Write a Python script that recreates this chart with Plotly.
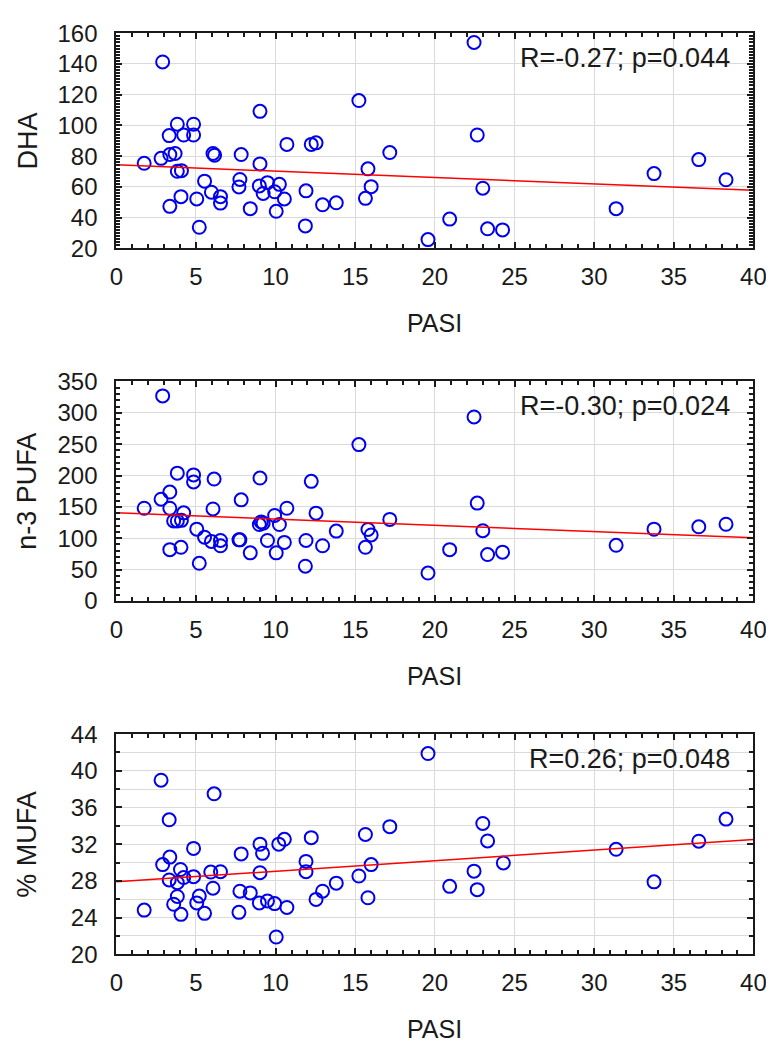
import plotly.graph_objects as go
from plotly.subplots import make_subplots

# PASI vs DHA
pasi_dha = [2.91, 1.75, 2.81, 3.36, 3.69, 3.32, 3.83, 4.23, 4.85, 4.85, 3.83, 4.09, 3.36, 4.06,
            5.05, 5.21, 5.54, 5.97, 6.07, 6.17, 6.54, 6.54, 7.70, 7.76, 7.84, 8.41, 9.02, 9.02,
            8.98, 9.22, 9.49, 9.94, 10.04, 10.24, 10.55, 10.71, 11.91, 11.87, 12.24, 12.54,
            12.95, 13.81, 15.23, 15.64, 15.80, 16.0, 17.17, 19.57, 22.46, 22.66, 20.93, 23.01,
            23.31, 24.25, 31.38, 33.76, 36.57, 38.28]
dha = [141.3, 75.4, 78.6, 81.1, 81.8, 93.4, 100.8, 93.8, 100.8, 93.8, 70.2, 70.6, 47.4, 53.7,
       52.2, 33.8, 63.8, 56.6, 81.8, 80.7, 53.7, 49.5, 60.0, 64.9, 81.1, 45.9, 109.2, 75.0,
       60.7, 55.8, 62.8, 56.9, 44.2, 61.7, 52.2, 87.7, 57.5, 34.7, 87.7, 88.7,
       48.4, 49.7, 116.2, 52.6, 71.8, 60.2, 82.4, 25.8, 154.0, 93.8, 39.1, 59.2,
       32.8, 32.1, 45.9, 68.7, 77.8, 64.7]

# PASI vs n-3 PUFA
pasi_n3 = [2.91, 1.75, 2.81, 3.36, 3.36, 3.83, 3.60, 3.83, 4.09, 4.23, 4.85, 4.85, 3.36, 4.06,
           5.05, 5.21, 5.54, 5.97, 6.07, 6.14, 6.54, 6.54, 7.70, 7.76, 7.84, 8.41, 9.02, 8.98,
           9.10, 9.22, 9.49, 9.94, 10.04, 10.24, 10.55, 10.71, 11.91, 11.87, 12.24, 12.54,
           12.95, 13.81, 15.23, 15.64, 15.80, 16.0, 17.17, 19.57, 22.46, 22.66, 20.93, 23.01,
           23.31, 24.25, 31.38, 33.76, 36.57, 38.28]
n3_pufa = [327, 147.8, 162.2, 173.6, 147.8, 203.8, 127.5, 127.5, 128.5, 140.5, 201, 189.7, 81.8, 85.5,
           114.5, 60, 101.6, 94.9, 146.7, 194.4, 96.4, 88, 97.4, 97.4, 161.2, 76.7, 196, 121.8,
           126, 124, 96.4, 136.3, 76.7, 121.8, 93.3, 147.8, 96.4, 55.4, 190.7, 140,
           88, 111.4, 249.3, 85.5, 114, 105.2, 130, 44.5, 293.4, 156, 81.8, 112,
           74, 77.8, 88.7, 114.5, 118.2, 122.3]

# PASI vs % MUFA
pasi_mufa = [2.81, 3.32, 3.36, 2.91, 3.32, 3.83, 4.03, 4.23, 3.83, 3.60, 4.06, 1.75, 4.85, 4.85,
             5.05, 5.21, 5.54, 5.93, 6.07, 6.14, 6.54, 7.70, 7.76, 7.84, 8.41, 9.02, 9.18, 9.02,
             8.98, 9.49, 9.94, 10.04, 10.20, 10.55, 10.71, 11.91, 11.91, 12.24, 12.54, 12.95,
             13.81, 15.23, 15.64, 15.80, 16.0, 17.17, 19.57, 20.93, 22.46, 22.66, 23.01, 23.31,
             24.30, 31.38, 33.76, 36.57, 38.28]
mufa = [38.97, 34.66, 30.59, 29.77, 28.1, 27.8, 29.24, 28.36, 26.3, 25.45, 24.35, 24.81, 31.54, 28.46,
        25.6, 26.34, 24.46, 28.96, 27.2, 37.49, 29.0, 24.57, 26.87, 30.94, 26.69, 32.0, 31.0, 28.89,
        25.6, 25.81, 25.52, 21.88, 32.0, 32.53, 25.1, 30.12, 29.0, 32.71, 25.98, 26.87,
        27.75, 28.53, 33.06, 26.16, 29.77, 33.91, 41.88, 27.4, 29.06, 27.04, 34.26, 32.35,
        29.95, 31.44, 27.89, 32.32, 34.73]

# regression lines (value at PASI 0 and 40)
fit_x = [0, 40]
fit_dha = [74.4, 57.9]
fit_n3 = [140.5, 100.6]
fit_mufa = [27.9, 32.5]

y_titles = ["DHA", "n-3 PUFA", "% MUFA"]
stats_text = ["R=-0.27; p=0.044", "R=-0.30; p=0.024", "R=0.26; p=0.048"]

FONT = "Liberation Sans, Arial, sans-serif"
W, H = 774, 1044
x_dom = [104 / W, 758 / W]
# panel top / bottom in pixels
panels_px = [(11.5, 232.5), (369, 594.3), (731, 957)]

fig = make_subplots(rows=3, cols=1)

series = [(pasi_dha, dha, fit_dha), (pasi_n3, n3_pufa, fit_n3), (pasi_mufa, mufa, fit_mufa)]
for i, (xs, ys, fit) in enumerate(series, start=1):
    fig.add_trace(go.Scatter(x=xs, y=ys, mode="markers",
                             marker=dict(symbol="circle-open", size=13, color="#0000ee",
                                         line=dict(width=2, color="#0000ee"))),
                  row=i, col=1)
    fig.add_trace(go.Scatter(x=fit_x, y=fit, mode="lines",
                             line=dict(color="#ff0000", width=1.5)),
                  row=i, col=1)

axis_common = dict(
    showline=True, linecolor="#1a1a1a", linewidth=2, mirror="allticks",
    ticks="inside", ticklen=6, tickwidth=1.5, tickcolor="#1a1a1a",
    showgrid=True, gridcolor="#dadada", gridwidth=1, zeroline=False,
    tickfont=dict(family=FONT, size=24, color="#1a1a1a"),
)

for i in range(1, 4):
    fig.update_xaxes(range=[0, 40], dtick=5, domain=x_dom, ticklabelstandoff=6,
                     minor=dict(dtick=1, ticks="inside", ticklen=4, tickcolor="#1a1a1a", showgrid=False),
                     row=i, col=1, **axis_common)

y_specs = [
    dict(range=[20, 160], dtick=20, minor=dict(dtick=2, ticks="inside", ticklen=4, tickcolor="#1a1a1a", showgrid=False)),
    dict(range=[0, 350], dtick=50, minor=dict(dtick=10, ticks="inside", ticklen=4, tickcolor="#1a1a1a", showgrid=False)),
    dict(range=[20, 44], dtick=4, minor=dict(dtick=2, ticks="inside", ticklen=4, tickcolor="#1a1a1a",
                                            showgrid=True, gridcolor="#dadada", gridwidth=1)),
]
for i, spec in enumerate(y_specs, start=1):
    top, bot = panels_px[i - 1]
    fig.update_yaxes(domain=[1 - bot / H, 1 - top / H], ticklabelstandoff=12,
                     row=i, col=1, **spec, **axis_common)

annotations = []
for i, (top, bot) in enumerate(panels_px):
    annotations.append(dict(text=stats_text[i], xref="paper", yref="paper",
                            x=736 / W, y=1 - (top + 25.5) / H, xanchor="right", yanchor="middle",
                            showarrow=False, font=dict(family=FONT, size=27, color="#1a1a1a")))
    annotations.append(dict(text=y_titles[i], xref="paper", yref="paper",
                            x=13 / W, y=1 - (top + bot) / 2 / H, xanchor="center", yanchor="middle",
                            textangle=-90, showarrow=False,
                            font=dict(family=FONT, size=27, color="#1a1a1a")))
    annotations.append(dict(text="PASI", xref="paper", yref="paper",
                            x=431 / W, y=1 - (bot + 77) / H, xanchor="center", yanchor="middle",
                            showarrow=False, font=dict(family=FONT, size=25, color="#1a1a1a")))

fig.update_layout(
    width=W, height=H,
    margin=dict(l=0, r=0, t=0, b=0),
    paper_bgcolor="white", plot_bgcolor="white",
    showlegend=False,
    annotations=annotations,
)

fig.write_html("out.html")
